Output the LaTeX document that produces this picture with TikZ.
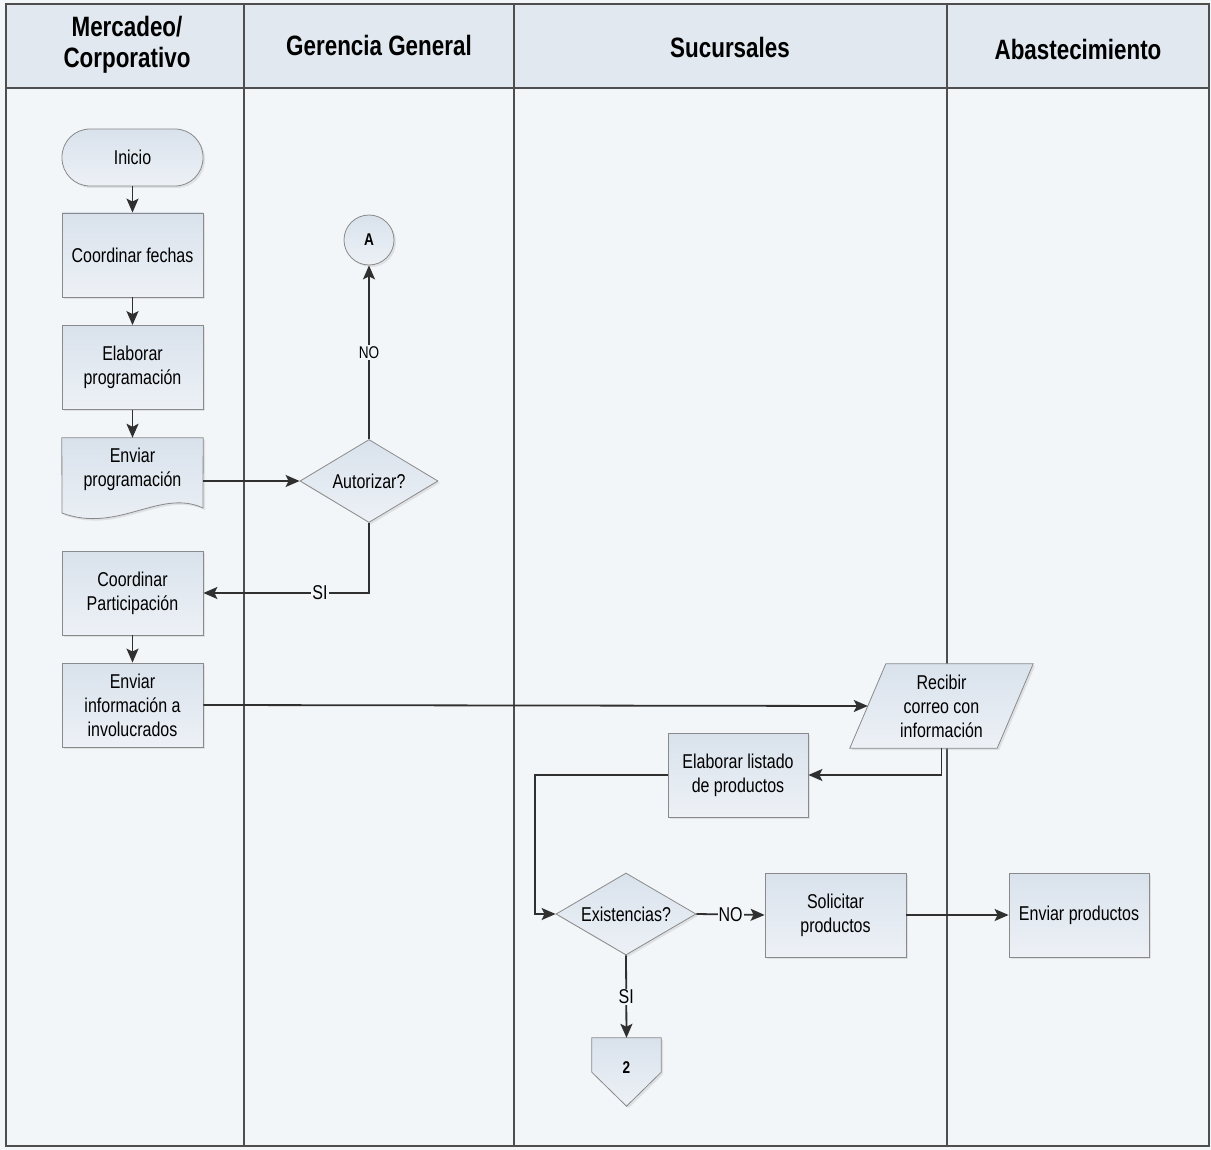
\documentclass[tikz,border=0pt]{standalone}
\usepackage{fontspec}
\setmainfont[FakeStretch=0.8]{Liberation Sans}
\usetikzlibrary{arrows.meta,shapes.geometric,shadows,calc}

\definecolor{pagebg}{HTML}{F3F6F9}
\definecolor{headbg}{HTML}{E1E8F0}
\definecolor{boxtop}{HTML}{D9E2EC}
\definecolor{boxbot}{HTML}{EDF1F6}
\definecolor{edge}{HTML}{8A8A8A}
\definecolor{ink}{HTML}{303030}
\definecolor{laneline}{HTML}{4E4E4E}

\begin{document}
\begin{tikzpicture}[x=1pt,y=-1pt,
  bodyfont/.style={font=\fontsize{20}{24}\selectfont},
  headtext/.style={font=\fontsize{28}{31}\selectfont\bfseries, align=center, text=black},
  fillstyle/.style={draw=edge, line width=0.8pt, top color=boxtop, bottom color=boxbot,
    drop shadow={opacity=0.18, shadow xshift=2pt, shadow yshift=-2pt}},
  procbox/.style={fillstyle, bodyfont, rectangle, align=center, minimum width=141pt,
    minimum height=84pt, inner sep=2pt},
  terminal/.style={procbox, rounded corners=28pt, minimum height=57pt},
  decision/.style={fillstyle, bodyfont, diamond, aspect=1.68, inner sep=0pt, align=center},
  textonly/.style={bodyfont, align=center, inner sep=0pt},
  connector/.style={fillstyle, circle, minimum size=50pt, inner sep=0pt,
    font=\fontsize{17}{19}\selectfont\bfseries},
  flow/.style={draw=ink, line width=1.8pt,
    -{Stealth[length=14pt,width=12pt,inset=3pt]}},
  tag/.style={bodyfont, fill=pagebg, inner sep=1pt},
  smalltag/.style={font=\fontsize{17}{19}\selectfont, fill=pagebg, inner sep=1.5pt},
  lane/.style={draw=laneline, line width=1.4pt}
]

% canvas and swimlane frame
\fill[pagebg] (0,0) rectangle (1211,1150);
\fill[headbg] (6,4) rectangle (1209,88);
\draw[lane] (6,4) rectangle (1209,1146);
\draw[lane] (6,88) -- (1209,88);
\foreach \lx in {244,514,947} \draw[lane] (\lx,4) -- (\lx,1146);

% lane titles
\node[headtext] (hMerc) at (127,45) {Mercadeo/\\Corporativo};
\node[headtext] (hGer)  at (379,45) {Gerencia General};
\node[headtext] (hSuc)  at (730,47) {Sucursales};
\node[headtext] (hAbs)  at (1078,49) {Abastecimiento};

% Mercadeo / Corporativo
\node[terminal] (inicio)   at (132.5,157.5) {Inicio};
\node[procbox]  (fechas)   at (132.5,255)   {Coordinar fechas};
\node[procbox]  (elabprog) at (132.5,367.5) {Elaborar\\programación};
\node[textonly, minimum width=141pt, minimum height=62pt] (envprog) at (132.5,469) {};
\path[fillstyle] (envprog.north west) -- (envprog.north east) -- (203,508)
  .. controls (160,488) and (118,534) .. (62,513) -- cycle;
\node[textonly] at (envprog.center) {Enviar\\programación};
\node[procbox]  (coordpart) at (132.5,593)  {Coordinar\\Participación};
\node[procbox]  (envinf)    at (132.5,705)  {Enviar\\información a\\involucrados};

% Gerencia General
\node[decision, minimum width=138pt, minimum height=83pt] (autorizar) at (369,481) {Autorizar?};
\node[connector] (circA) at (369,240) {A};

% Sucursales
\node[textonly, minimum width=147pt, minimum height=84pt] (recibir) at (941.5,706) {};
\path[fillstyle] ($(recibir.north west)+(18,0)$) -- ($(recibir.north east)+(18,0)$)
  -- ($(recibir.south east)+(-18,0)$) -- ($(recibir.south west)+(-18,0)$) -- cycle;
\node[textonly] at (recibir.center) {Recibir\\correo con\\información};
\node[procbox, minimum width=140pt] (listado) at (738,775) {Elaborar listado\\de productos};
\node[decision, minimum width=140pt, minimum height=82pt] (exist) at (626,914) {Existencias?};
\node[procbox] (solicitar) at (835.5,915) {Solicitar\\productos};
\node[textonly, minimum width=69pt, minimum height=68pt] (off2) at (626.5,1072) {};
\path[fillstyle] (off2.north west) -- (off2.north east) -- ($(off2.south east)+(0,-34)$)
  -- (off2.south) -- ($(off2.south west)+(0,-34)$) -- cycle;
\node[font=\fontsize{17}{19}\selectfont\bfseries] at ($(off2.center)+(0,-4)$) {2};

% Abastecimiento
\node[procbox, minimum width=140pt] (enviarprod) at (1079,915) {Enviar productos};

% connectors
\coordinate (loopx) at (535,0);
\draw[flow] (inicio) -- (fechas);
\draw[flow] (fechas) -- (elabprog);
\draw[flow] (elabprog) -- (envprog);
\draw[flow] (autorizar.west -| envprog.east) -- (autorizar.west);
\draw[flow] (autorizar.north) -- node[smalltag] {NO} (circA.south);
\draw[flow] (autorizar.south) |- node[tag, pos=0.648] {SI} (coordpart.east);
\draw[flow] (coordpart) -- (envinf);
\draw[flow] (envinf.east) -- (recibir.west);
\draw[flow] (recibir.south) |- (listado.east);
\draw[flow] (listado.west) -- (listado.west -| loopx) |- (exist.west);
\draw[flow] (exist.east) -- node[tag] {NO} (solicitar.west);
\draw[flow] (solicitar.east) -- (enviarprod.west);
\draw[flow] (exist.south) -- node[tag] {SI} (off2.north);

\end{tikzpicture}
\end{document}
